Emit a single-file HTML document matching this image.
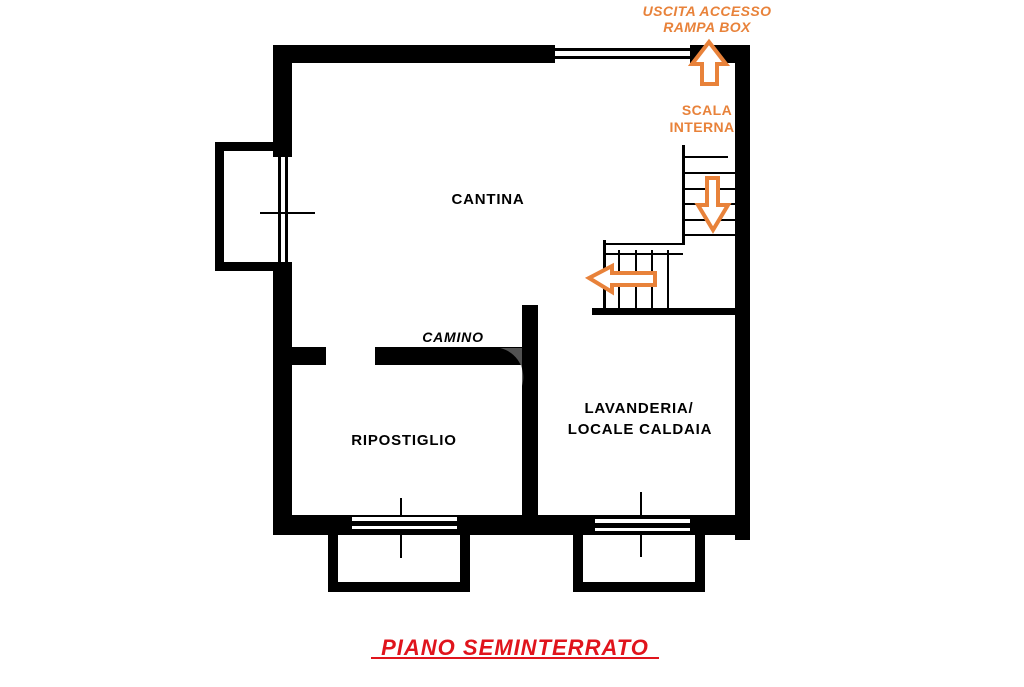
<!DOCTYPE html>
<html><head><meta charset="utf-8"><style>
body{margin:0;background:#fff;width:1024px;height:682px;overflow:hidden}
svg text{font-family:"Liberation Sans",sans-serif;font-weight:bold}
</style></head><body>
<svg width="1024" height="682" viewBox="0 0 1024 682">
<g fill="#000">
<rect x="273" y="45" width="282" height="18"/>
<rect x="690" y="45" width="60" height="18"/>
<rect x="555" y="48" width="135" height="3"/>
<rect x="555" y="56" width="135" height="3"/>
<rect x="273" y="45" width="19" height="112"/>
<rect x="273" y="262" width="19" height="272"/>
<rect x="735" y="45" width="15" height="495"/>
<rect x="273" y="515" width="477" height="20"/>
<rect x="215" y="142" width="60" height="9"/>
<rect x="215" y="262" width="60" height="9"/>
<rect x="215" y="142" width="9" height="129"/>
<rect x="278" y="157" width="3" height="105"/>
<rect x="285" y="157" width="3" height="105"/>
<rect x="260" y="212" width="55" height="2"/>
<rect x="292" y="347" width="34" height="18"/>
<rect x="375" y="347" width="150" height="18"/>
<rect x="522" y="305" width="16" height="212"/>
<rect x="592" y="308" width="143" height="7"/>
<rect x="682" y="145" width="3" height="100"/>
<rect x="683" y="156" width="45" height="2"/>
<rect x="683" y="172" width="52" height="2"/>
<rect x="683" y="188" width="52" height="2"/>
<rect x="683" y="203" width="52" height="2"/>
<rect x="683" y="219" width="52" height="2"/>
<rect x="683" y="234" width="52" height="2"/>
<rect x="603" y="243" width="80" height="2"/>
<rect x="603" y="240" width="3" height="70"/>
<rect x="618" y="250" width="2" height="60"/>
<rect x="635" y="250" width="2" height="60"/>
<rect x="651" y="250" width="2" height="60"/>
<rect x="667" y="250" width="2" height="60"/>
<rect x="603" y="253" width="80" height="2"/>
<rect x="328" y="535" width="10" height="57"/>
<rect x="460" y="535" width="10" height="57"/>
<rect x="328" y="582" width="142" height="10"/>
<rect x="573" y="535" width="10" height="57"/>
<rect x="695" y="535" width="10" height="57"/>
<rect x="573" y="582" width="132" height="10"/>
<rect x="400" y="498" width="2" height="60"/>
<rect x="640" y="492" width="2" height="65"/>
</g>
<g fill="#fff">
<rect x="352" y="517" width="105" height="4"/>
<rect x="352" y="526" width="105" height="3"/>
<rect x="595" y="519" width="95" height="4"/>
<rect x="595" y="528" width="95" height="3"/>
</g>
<path d="M500 348 A30 30 0 0 1 522 386 L522 348Z" fill="#666" opacity="0.8"/>
<g fill="#fff" stroke="#e8823a" stroke-width="4">
<path d="M709 42 L726 64 L717 64 L717 84 L702 84 L702 64 L692 64Z"/>
<path d="M707 178 L718 178 L718 205 L728 205 L713 230 L698 205 L707 205Z"/>
<path d="M589 278 L612 266 L612 273 L655 273 L655 285 L612 285 L612 292Z"/>
</g>
<g font-size="15" fill="#000" text-anchor="middle" letter-spacing="0.8">
<text x="488" y="204">CANTINA</text>
<text x="404" y="445">RIPOSTIGLIO</text>
<text x="639" y="413">LAVANDERIA/</text>
<text x="640" y="434">LOCALE CALDAIA</text>
<text x="453" y="342" font-style="italic" font-size="14">CAMINO</text>
</g>
<g font-size="14" fill="#e8823a" text-anchor="middle" letter-spacing="0.4">
<text x="707" y="16" font-style="italic">USCITA ACCESSO</text>
<text x="707" y="32" font-style="italic">RAMPA BOX</text>
<text x="707" y="115">SCALA</text>
<text x="702" y="132">INTERNA</text>
</g>
<text x="515" y="655" font-size="22" font-style="italic" fill="#e0141c" text-anchor="middle" letter-spacing="1">PIANO SEMINTERRATO</text>
<rect x="371" y="657" width="288" height="2" fill="#e0141c"/>
</svg>
</body></html>
